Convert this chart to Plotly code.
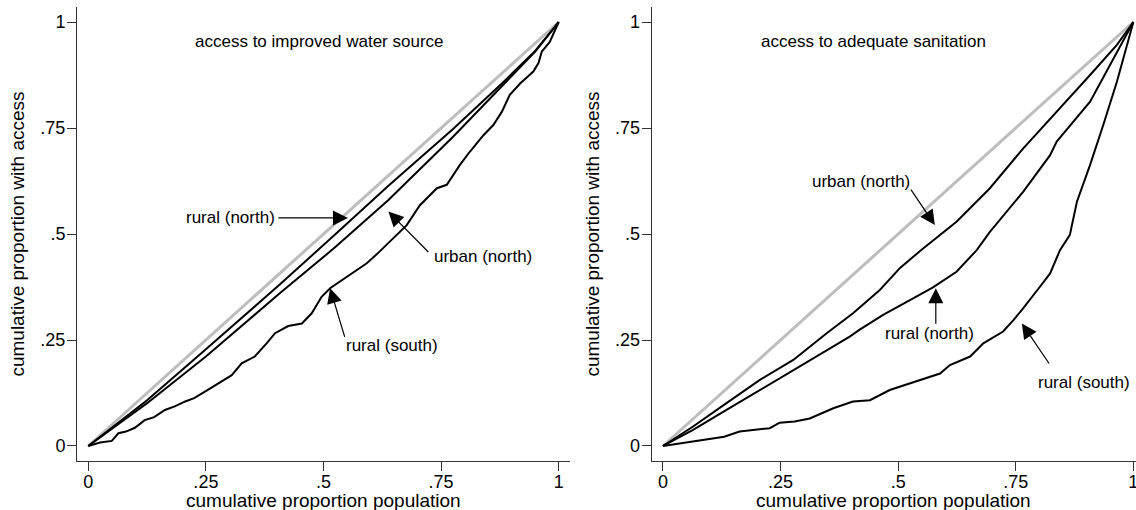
import plotly.graph_objects as go

# Concentration curves: cumulative proportion of population (x) vs
# cumulative proportion with access (y)

tick_vals = [0, 0.25, 0.5, 0.75, 1]
tick_text = ["0", ".25", ".5", ".75", "1"]

# Panel 1: access to improved water source
water_rural_north_x = [0, 0.05, 0.125, 0.25, 0.407, 0.524, 0.638, 0.776, 0.882, 0.95, 1]
water_rural_north_y = [0, 0.043, 0.108, 0.228, 0.381, 0.498, 0.614, 0.748, 0.858, 0.932, 1]

water_urban_north_x = [0, 0.05, 0.125, 0.25, 0.407, 0.524, 0.638, 0.776, 0.882, 0.95, 1]
water_urban_north_y = [0, 0.040, 0.101, 0.211, 0.360, 0.468, 0.580, 0.730, 0.852, 0.930, 1]

water_rural_south_x = [0, 0.025, 0.05, 0.064, 0.080, 0.099, 0.12, 0.14, 0.163, 0.185,
                       0.206, 0.225, 0.248, 0.262, 0.277, 0.305, 0.326, 0.354, 0.379,
                       0.397, 0.425, 0.454, 0.475, 0.496, 0.514, 0.549, 0.592, 0.613,
                       0.634, 0.677, 0.705, 0.741, 0.762, 0.790, 0.811, 0.840, 0.861,
                       0.879, 0.896, 0.918, 0.946, 0.957, 0.964, 0.981, 1]
water_rural_south_y = [0, 0.008, 0.012, 0.030, 0.034, 0.043, 0.061, 0.068, 0.085, 0.094,
                       0.105, 0.113, 0.128, 0.138, 0.149, 0.167, 0.195, 0.211, 0.242,
                       0.266, 0.283, 0.289, 0.313, 0.352, 0.372, 0.399, 0.431, 0.452,
                       0.474, 0.521, 0.568, 0.608, 0.616, 0.663, 0.694, 0.733, 0.757,
                       0.788, 0.828, 0.855, 0.883, 0.903, 0.930, 0.953, 1]

# Panel 2: access to adequate sanitation
san_urban_north_x = [0, 0.064, 0.135, 0.206, 0.277, 0.312, 0.348, 0.404, 0.461, 0.504,
                     0.553, 0.624, 0.695, 0.766, 0.837, 0.908, 0.965, 1]
san_urban_north_y = [0, 0.046, 0.101, 0.156, 0.203, 0.234, 0.266, 0.313, 0.368, 0.420,
                     0.466, 0.529, 0.608, 0.702, 0.788, 0.875, 0.946, 1]

san_rural_north_x = [0, 0.064, 0.135, 0.206, 0.277, 0.348, 0.397, 0.419, 0.468, 0.525,
                     0.574, 0.624, 0.667, 0.695, 0.766, 0.823, 0.837, 0.908, 0.965, 1]
san_rural_north_y = [0, 0.038, 0.085, 0.132, 0.179, 0.226, 0.258, 0.275, 0.309, 0.344,
                     0.374, 0.411, 0.462, 0.505, 0.600, 0.686, 0.718, 0.812, 0.930, 1]

san_rural_south_x = [0, 0.05, 0.099, 0.13, 0.163, 0.20, 0.227, 0.248, 0.28, 0.312, 0.34,
                     0.362, 0.404, 0.44, 0.482, 0.539, 0.589, 0.61, 0.653, 0.681, 0.723,
                     0.745, 0.766, 0.801, 0.823, 0.844, 0.865, 0.88, 0.908, 0.936, 0.965, 1]
san_rural_south_y = [0, 0.008, 0.016, 0.022, 0.034, 0.038, 0.042, 0.055, 0.058, 0.065, 0.078,
                     0.089, 0.105, 0.108, 0.132, 0.152, 0.171, 0.191, 0.211, 0.242, 0.270,
                     0.297, 0.325, 0.375, 0.407, 0.462, 0.498, 0.576, 0.663, 0.757, 0.859, 1]

equality_x = [0, 1]
equality_y = [0, 1]

FONT = "Liberation Sans, Arial, sans-serif"
CURVE = dict(color="black", width=2)
X_TITLE_TEXT = "cumulative proportion population"
Y_TITLE_TEXT = "cumulative proportion with access"

fig = go.Figure()

for xa, ya in [("x", "y"), ("x2", "y2")]:
    fig.add_trace(go.Scatter(x=equality_x, y=equality_y, mode="lines",
                             line=dict(color="#bdbdbd", width=3),
                             xaxis=xa, yaxis=ya, showlegend=False))

for xs, ys in [(water_rural_north_x, water_rural_north_y),
               (water_urban_north_x, water_urban_north_y),
               (water_rural_south_x, water_rural_south_y)]:
    fig.add_trace(go.Scatter(x=xs, y=ys, mode="lines", line=CURVE,
                             xaxis="x", yaxis="y", showlegend=False))

for xs, ys in [(san_urban_north_x, san_urban_north_y),
               (san_rural_north_x, san_rural_north_y),
               (san_rural_south_x, san_rural_south_y)]:
    fig.add_trace(go.Scatter(x=xs, y=ys, mode="lines", line=CURVE,
                             xaxis="x2", yaxis="y2", showlegend=False))

axis_common = dict(
    showline=True, linecolor="#333333", linewidth=1,
    showgrid=False, zeroline=False, automargin=False,
    ticks="outside", ticklen=9, tickwidth=1, tickcolor="#333333",
    tickvals=tick_vals, ticktext=tick_text,
    tickfont=dict(family=FONT, size=18, color="black"),
    ticklabeloverflow="allow",
)
x_axis_common = dict(axis_common, ticklabelstandoff=-5)
y_axis_common = dict(axis_common, ticklabelstandoff=-2)

y_title = dict(text=Y_TITLE_TEXT,
               font=dict(family=FONT, size=19, color="black"), standoff=10)

fig.update_layout(
    width=1136, height=510,
    margin=dict(l=77, r=0, t=7, b=49),
    paper_bgcolor="white", plot_bgcolor="white",
    xaxis=dict(domain=[0, 0.46553], range=[-0.024, 1.024], **x_axis_common),
    yaxis=dict(domain=[0, 1], range=[-0.0354, 1.0354], title=y_title, **y_axis_common),
    xaxis2=dict(domain=[0.54268, 1], range=[-0.024, 1.0056], anchor="y2",
                **x_axis_common),
    yaxis2=dict(domain=[0, 1], range=[-0.0354, 1.0354], anchor="x2",
                title=y_title, **y_axis_common),
)

# x-axis titles sit low, right at the bottom edge of the figure
for xd in ["x domain", "x2 domain"]:
    fig.add_annotation(text=X_TITLE_TEXT, x=0.5, y=-0.0870, xref=xd, yref="paper",
                       xanchor="center", yanchor="middle", showarrow=False,
                       font=dict(family=FONT, size=19, color="black"))

LABEL_FONT = dict(family=FONT, size=17, color="black")

# panel headings and curve labels: (text, x, y, xanchor, axis suffix)
labels = [
    ("access to improved water source", 0.4915, 0.954, "center", ""),
    ("rural (north)", 0.2035, 0.538, "left", ""),
    ("urban (north)", 0.839, 0.448, "center", ""),
    ("rural (south)", 0.645, 0.238, "center", ""),
    ("access to adequate sanitation", 0.448, 0.954, "center", "2"),
    ("urban (north)", 0.422, 0.623, "center", "2"),
    ("rural (north)", 0.566, 0.266, "center", "2"),
    ("rural (south)", 0.895, 0.149, "center", "2"),
]
for text, x, y, xanchor, s in labels:
    fig.add_annotation(text=text, x=x, y=y, xref="x" + s, yref="y" + s,
                       xanchor=xanchor, yanchor="middle", showarrow=False,
                       font=LABEL_FONT)

# arrows: (tip x, tip y, tail x, tail y, axis suffix)
arrows = [
    (0.552, 0.538, 0.401, 0.538, ""),
    (0.638, 0.553, 0.726, 0.454, ""),
    (0.514, 0.372, 0.546, 0.254, ""),
    (0.578, 0.521, 0.525, 0.608, "2"),
    (0.580, 0.372, 0.580, 0.285, "2"),
    (0.763, 0.289, 0.823, 0.191, "2"),
]
for tx, ty, sx, sy, s in arrows:
    fig.add_annotation(text="", x=tx, y=ty, ax=sx, ay=sy,
                       xref="x" + s, yref="y" + s, axref="x" + s, ayref="y" + s,
                       showarrow=True, arrowhead=2, arrowsize=2.5, arrowwidth=1.2,
                       arrowcolor="black", standoff=0, startstandoff=0)

fig.write_html("out.html")
